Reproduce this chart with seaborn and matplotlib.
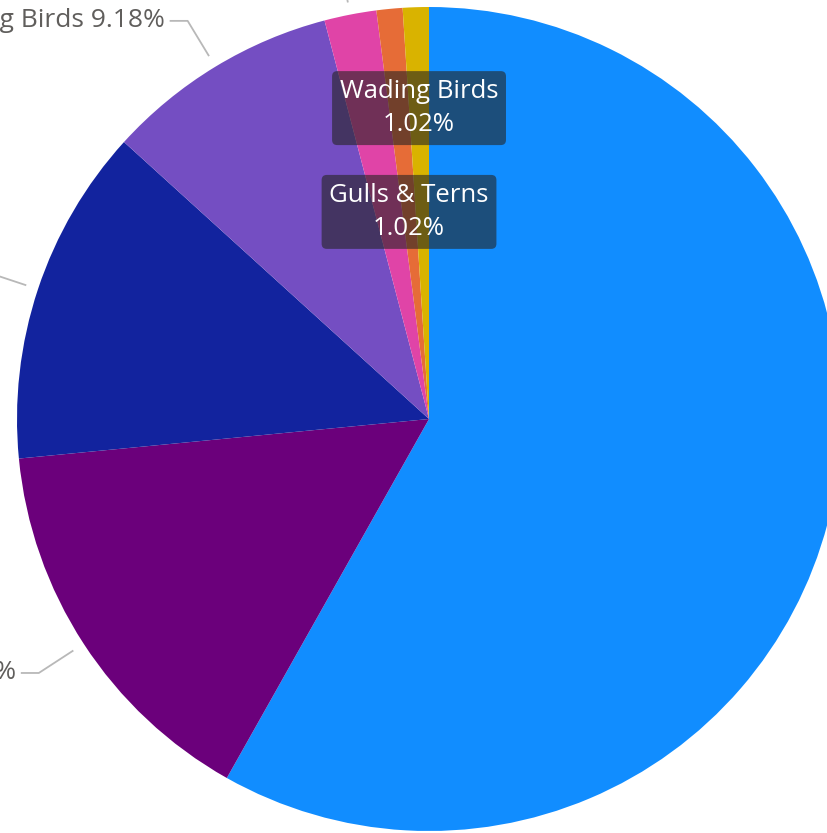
import numpy as np
import matplotlib
matplotlib.use("Agg")
import matplotlib.pyplot as plt
import seaborn as sns

# bird groups, clockwise from 12 o'clock
names = ["Songbirds", "Waterfowl", "Birds of Prey", "Diving Birds",
         "Shorebirds", "Gulls & Terns", "Wading Birds"]
counts = [57, 15, 13, 9, 2, 1, 1]
colors = ["#118DFF", "#6B007B", "#12239E", "#744EC2",
          "#E044A7", "#E66C37", "#D9B300"]
# labels shown inside in dark boxes (radial position as fraction of radius)
inside = {"Wading Birds": 0.755, "Gulls & Terns": 0.505}

sns.set_theme(style="white")
plt.rcParams["font.family"] = ["Open Sans", "DejaVu Sans"]

total = sum(counts)
pcts = [c / total * 100 for c in counts]

fig = plt.figure(figsize=(8.27, 8.33), dpi=100)
ax = fig.add_axes([0, 0, 1, 1])

wedges, _ = ax.pie(counts, colors=sns.color_palette(colors), startangle=90,
                   counterclock=False, radius=1,
                   wedgeprops=dict(linewidth=0))

# the picture is a crop: centre sits at (429, 419) px, radius 412 px
px = 1 / 412
ax.set_xlim(-429 * px, (827 - 429) * px)
ax.set_ylim(-(833 - 419) * px, 419 * px)
ax.set_aspect("auto")
ax.axis("off")

for w, name, p in zip(wedges, names, pcts):
    mid = np.deg2rad((w.theta1 + w.theta2) / 2)
    ux, uy = np.cos(mid), np.sin(mid)
    lab = f"{p:.2f}%"
    if name in inside:
        r = inside[name]
        ax.text(r * ux, r * uy, f"{name}\n{lab}", ha="center", va="center",
                color="white", fontsize=18.5, linespacing=1.45,
                bbox=dict(boxstyle="round,pad=0.3,rounding_size=0.2",
                          fc="#252423", ec="none", alpha=0.6))
        continue
    side = 1 if ux >= 0 else -1
    x0, y0 = 1.03 * ux, 1.03 * uy
    x1, y1 = 1.13 * ux, 1.13 * uy
    x2 = x1 + side * 18 * px
    ax.plot([x0, x1, x2], [y0, y1, y1], color="#b8b8b8", lw=1.3,
            solid_capstyle="butt", clip_on=True)
    ax.text(x2 + side * 5 * px, y1, f"{name} {lab}",
            ha="left" if side > 0 else "right", va="center",
            color="#605E5C", fontsize=19)

plt.savefig("out.png", dpi=100)
plt.close()
